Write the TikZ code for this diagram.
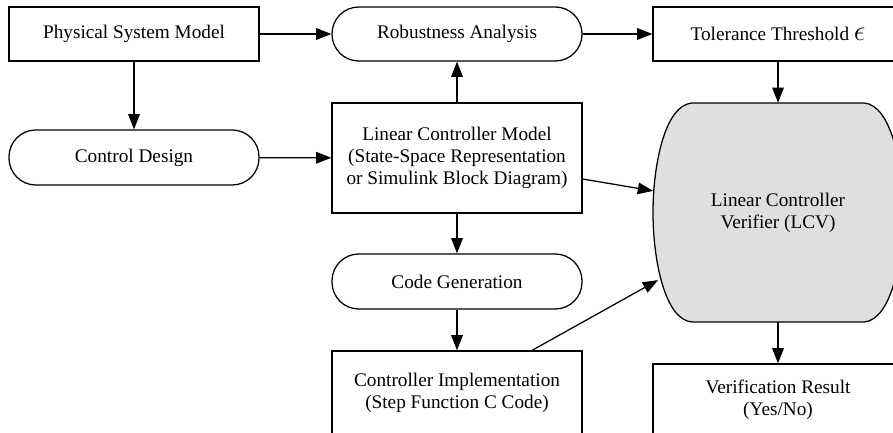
\documentclass[tikz,border=0pt]{standalone}
\usepackage{fix-cm}
\usepackage{fontspec}
\setmainfont{Liberation Serif}
\usepackage{tikz}
\usetikzlibrary{arrows.meta}

\begin{document}
\begin{tikzpicture}[
    font=\fontsize{13.7}{15.8}\selectfont,
    box/.style={rectangle, draw, line width=0.9pt, minimum width=6.25cm, minimum height=1.35cm, align=center, inner sep=0pt},
    stadium/.style={box, rounded corners=0.67cm},
    verifier/.style={draw, line width=0.9pt, fill=gray!25},
    arrow/.style={-{Triangle[length=3.8mm, width=2.9mm]}, line width=0.9pt}
]
\useasboundingbox (0,0) rectangle (22.325,-10.8);

% Top row
\node[box] (psm) at (3.35,-0.85) {Physical System Model};
\node[stadium] (robust) at (11.425,-0.85) {Robustness Analysis};
\node[box] (tol) at (19.45,-0.85) {Tolerance Threshold \scalebox{1.5}{$\epsilon$}};

% Middle row
\node[stadium, minimum height=1.375cm] (design) at (3.35,-3.9375) {Control Design};
\node[box, minimum height=2.75cm] (lcm) at (11.425,-3.95) {Linear Controller Model\\(State-Space Representation\\or Simulink Block Diagram)};

% Verifier (LCV)
\node[minimum width=6.25cm, minimum height=5.475cm, inner sep=0pt] (lcv) at (19.45,-5.3125) {};
\begin{scope}[shift={(lcv.center)}]
\draw[verifier] (-2.15,2.7375) .. controls (-2.825,2.6875) and (-3.125,1.2) .. (-3.125,0)
    .. controls (-3.125,-1.2) and (-2.825,-2.6875) .. (-2.15,-2.7375) -- (2.15,-2.7375)
    .. controls (2.825,-2.6875) and (3.125,-1.2) .. (3.125,0)
    .. controls (3.125,1.2) and (2.825,2.6875) .. (2.15,2.7375) -- cycle;
\coordinate (lcvin1) at (-3.125,0.54);
\coordinate (lcvin2) at (-3.0,-1.69);
\end{scope}
\node[align=center] (lcvtext) at (lcv.center) {Linear Controller\\Verifier (LCV)};

% Bottom row
\node[stadium, minimum height=1.375cm] (codegen) at (11.425,-7.0375) {Code Generation};
\node[box, minimum height=2.1cm] (impl) at (11.425,-9.825) {Controller Implementation\\(Step Function C Code)};
\node[box, minimum height=1.775cm] (result) at (19.45,-9.9875) {Verification Result\\(Yes/No)};

% Arrows
\draw[arrow] (psm) -- (robust);
\draw[arrow] (robust) -- (tol);
\draw[arrow] (psm) -- (design);
\draw[arrow] (design) -- (lcm);
\draw[arrow] (lcm) -- (robust);
\draw[arrow] (tol) -- (lcv);
\draw[arrow] ([yshift=-0.525cm]lcm.east) -- (lcvin1);
\draw[arrow] (lcm) -- (codegen);
\draw[arrow] (codegen) -- (impl);
\draw[arrow] ([xshift=1.875cm]impl.north) -- (lcvin2);
\draw[arrow] (lcv) -- (result);

\end{tikzpicture}
\end{document}
